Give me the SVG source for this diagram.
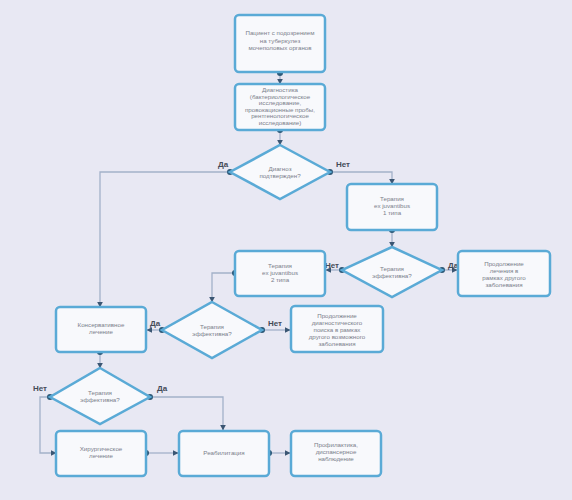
<svg xmlns="http://www.w3.org/2000/svg" width="572" height="500" viewBox="0 0 572 500">
<defs>
<style>
.bg{fill:#e8e8f3}
.box{fill:#f8f9fc;stroke:#5aaad6;stroke-width:2.5}
.t{font-family:"Liberation Sans",Arial,sans-serif;font-size:6.2px;fill:#7b808b;text-anchor:middle}
.lbl{font-family:"Liberation Sans",Arial,sans-serif;font-size:8px;font-weight:bold;fill:#444b58}
.ln{fill:none;stroke:#a3b1c9;stroke-width:1.3}
.dot{fill:#2c5877}
</style>
<marker id="ah" viewBox="0 0 10 10" refX="9" refY="5" markerWidth="6" markerHeight="6" orient="auto" markerUnits="userSpaceOnUse">
<path d="M0,0 L10,5 L0,10 z" fill="#3b5673"/>
</marker>
</defs>
<rect class="bg" x="0" y="0" width="572" height="500"/>

<g id="connectors">
<path class="ln" d="M280,73 V84" marker-end="url(#ah)"/>
<path class="ln" d="M280,130 V145" marker-end="url(#ah)"/>
<path class="ln" d="M230,172 H100 V307" marker-end="url(#ah)"/>
<path class="ln" d="M330,172 H392 V184" marker-end="url(#ah)"/>
<path class="ln" d="M392,230 V247" marker-end="url(#ah)"/>
<path class="ln" d="M342,270 H326" marker-end="url(#ah)"/>
<path class="ln" d="M442,270 H457" marker-end="url(#ah)"/>
<path class="ln" d="M235,273 H212 V302" marker-end="url(#ah)"/>
<path class="ln" d="M162,330 H147" marker-end="url(#ah)"/>
<path class="ln" d="M262,330 H290" marker-end="url(#ah)"/>
<path class="ln" d="M100,352 V368" marker-end="url(#ah)"/>
<path class="ln" d="M50,397 H40 V453 H56" marker-end="url(#ah)"/>
<path class="ln" d="M150,397 H223 V430" marker-end="url(#ah)"/>
<path class="ln" d="M146,453 H178" marker-end="url(#ah)"/>
<path class="ln" d="M269,453 H290" marker-end="url(#ah)"/>
<circle class="dot" cx="280" cy="73" r="3"/>
<circle class="dot" cx="280" cy="130" r="3"/>
<circle class="dot" cx="230" cy="172" r="3"/>
<circle class="dot" cx="330" cy="172" r="3"/>
<circle class="dot" cx="392" cy="230" r="3"/>
<circle class="dot" cx="342" cy="270" r="3"/>
<circle class="dot" cx="442" cy="270" r="3"/>
<circle class="dot" cx="235" cy="273" r="3"/>
<circle class="dot" cx="162" cy="330" r="3"/>
<circle class="dot" cx="262" cy="330" r="3"/>
<circle class="dot" cx="100" cy="352" r="3"/>
<circle class="dot" cx="50" cy="397" r="3"/>
<circle class="dot" cx="150" cy="397" r="3"/>
<circle class="dot" cx="146" cy="453" r="3"/>
<circle class="dot" cx="269" cy="453" r="3"/>
<text class="lbl" x="218" y="167">Да</text>
<text class="lbl" x="336" y="167">Нет</text>
<text class="lbl" x="325" y="268">Нет</text>
<text class="lbl" x="448" y="268">Да</text>
<text class="lbl" x="150" y="326">Да</text>
<text class="lbl" x="268" y="326">Нет</text>
<text class="lbl" x="33" y="391">Нет</text>
<text class="lbl" x="157" y="391">Да</text>
</g>

<g id="n1">
<rect class="box" x="235" y="15" width="90" height="57" rx="4"/>
<text class="t" x="280" y="35">Пациент с подозрением</text>
<text class="t" x="280" y="42.5">на туберкулез</text>
<text class="t" x="280" y="50">мочеполовых органов</text>
</g>
<g id="n2">
<rect class="box" x="235" y="84" width="90" height="46" rx="4"/>
<text class="t" x="280" y="92">Диагностика</text>
<text class="t" x="280" y="98.5">(бактериологическое</text>
<text class="t" x="280" y="105">исследование,</text>
<text class="t" x="280" y="111.5">провокационные пробы,</text>
<text class="t" x="280" y="118">рентгенологическое</text>
<text class="t" x="280" y="124.5">исследование)</text>
</g>
<g id="d1">
<path class="box" d="M280,145 L330,172 L280,199 L230,172 Z"/>
<text class="t" x="280" y="171">Диагноз</text>
<text class="t" x="280" y="178">подтвержден?</text>
</g>
<g id="n3">
<rect class="box" x="347" y="184" width="90" height="46" rx="4"/>
<text class="t" x="392" y="201">Терапия</text>
<text class="t" x="392" y="208">ex juvantibus</text>
<text class="t" x="392" y="215">1 типа</text>
</g>
<g id="d2">
<path class="box" d="M392,247 L442,270 L392,297 L342,270 Z"/>
<text class="t" x="392" y="271">Терапия</text>
<text class="t" x="392" y="278">эффективна?</text>
</g>
<g id="n4">
<rect class="box" x="235" y="251" width="90" height="45" rx="4"/>
<text class="t" x="280" y="268">Терапия</text>
<text class="t" x="280" y="275">ex juvantibus</text>
<text class="t" x="280" y="282">2 типа</text>
</g>
<g id="n5">
<rect class="box" x="458" y="251" width="92" height="45" rx="4"/>
<text class="t" x="504" y="266">Продолжение</text>
<text class="t" x="504" y="273">лечения в</text>
<text class="t" x="504" y="280">рамках другого</text>
<text class="t" x="504" y="287">заболевания</text>
</g>
<g id="d3">
<path class="box" d="M212,302 L262,330 L212,358 L162,330 Z"/>
<text class="t" x="212" y="329">Терапия</text>
<text class="t" x="212" y="336">эффективна?</text>
</g>
<g id="n6">
<rect class="box" x="56" y="307" width="90" height="45" rx="4"/>
<text class="t" x="101" y="327">Консервативное</text>
<text class="t" x="101" y="334">лечение</text>
</g>
<g id="n7">
<rect class="box" x="291" y="306" width="92" height="46" rx="4"/>
<text class="t" x="337" y="318">Продолжение</text>
<text class="t" x="337" y="325">диагностического</text>
<text class="t" x="337" y="332">поиска в рамках</text>
<text class="t" x="337" y="339">другого возможного</text>
<text class="t" x="337" y="346">заболевания</text>
</g>
<g id="d4">
<path class="box" d="M100,368 L150,397 L100,424 L50,397 Z"/>
<text class="t" x="100" y="395">Терапия</text>
<text class="t" x="100" y="402">эффективна?</text>
</g>
<g id="n8">
<rect class="box" x="56" y="431" width="90" height="45" rx="4"/>
<text class="t" x="101" y="451">Хирургическое</text>
<text class="t" x="101" y="458">лечение</text>
</g>
<g id="n9">
<rect class="box" x="179" y="431" width="90" height="45" rx="4"/>
<text class="t" x="224" y="455">Реабилитация</text>
</g>
<g id="n10">
<rect class="box" x="291" y="431" width="90" height="45" rx="4"/>
<text class="t" x="336" y="447">Профилактика,</text>
<text class="t" x="336" y="454">диспансерное</text>
<text class="t" x="336" y="461">наблюдение</text>
</g>
</svg>
